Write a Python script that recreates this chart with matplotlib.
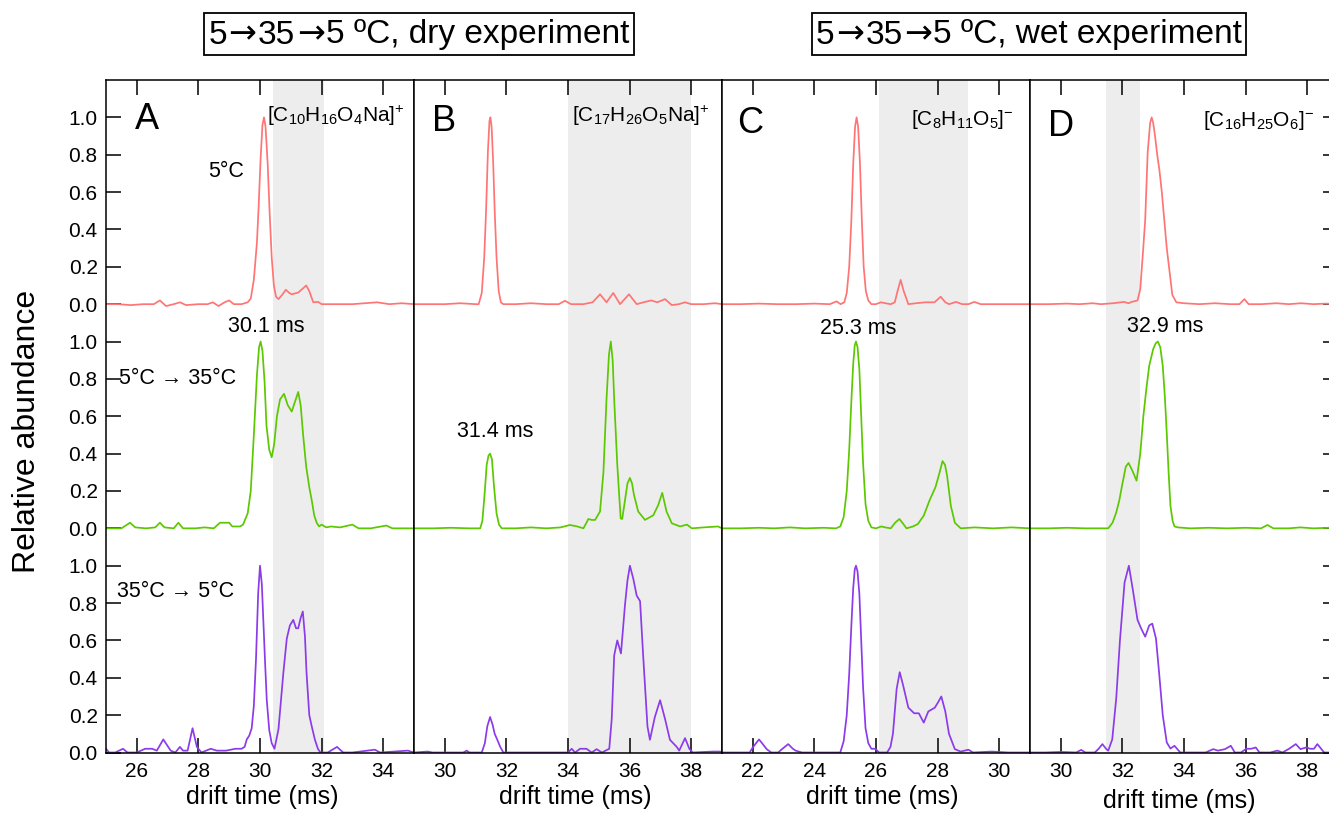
import numpy as np
import matplotlib
matplotlib.use("Agg")
import matplotlib.pyplot as plt
from matplotlib.offsetbox import TextArea, HPacker, AnnotationBbox

plt.rcParams['font.family'] = ['Liberation Sans', 'DejaVu Sans']
plt.rcParams['mathtext.fontset'] = 'custom'
plt.rcParams['mathtext.rm'] = 'Liberation Sans'
plt.rcParams['mathtext.it'] = 'Liberation Sans'
plt.rcParams['mathtext.default'] = 'regular'

# ---------------- data ----------------
panel_letters = ["A", "B", "C", "D"]
panel_formulas = [r"[C$_{10}$H$_{16}$O$_{4}$Na]$^{+}$", r"[C$_{17}$H$_{26}$O$_{5}$Na]$^{+}$",
                  r"[C$_{8}$H$_{11}$O$_{5}$]$^{-}$", r"[C$_{16}$H$_{25}$O$_{6}$]$^{-}$"]
panel_xlims = [(25, 35), (29, 39), (21, 31), (29, 39)]
panel_xticks = [[26, 28, 30, 32, 34], [30, 32, 34, 36, 38], [22, 24, 26, 28, 30], [30, 32, 34, 36, 38]]
panel_shade = [(30.42, 32.07), (34.0, 38.0), (26.09, 28.99), (31.48, 32.56)]
row_offsets = [2.4, 1.2, 0.0]          # 5°C, 5°C→35°C, 35°C→5°C
row_ticks = [0.0, 0.2, 0.4, 0.6, 0.8, 1.0]
row_tick_labels = ["0.0", "0.2", "0.4", "0.6", "0.8", "1.0"]
title_parts = [["5", "→", "35", "→", "5 ºC, dry experiment"],
               ["5", "→", "35", "→", "5 ºC, wet experiment"]]

# Panel A
a_top_x = [25.0, 25.4, 25.8, 26.2, 26.55, 26.75, 26.95, 27.2, 27.4, 27.6, 28.0, 28.3, 28.47, 28.65, 28.85, 29.0,
           29.15, 29.4, 29.6, 29.7, 29.8, 29.9, 29.95, 30.02, 30.08, 30.13, 30.18, 30.25, 30.31, 30.38, 30.45,
           30.52, 30.6, 30.72, 30.84, 30.95, 31.03, 31.24, 31.4, 31.5, 31.6, 31.73, 31.89, 32.0, 32.5, 33.0, 33.4,
           33.8, 34.2, 34.6, 35.0]
a_top_y = [0.0, 0.0, -0.005, 0.0, 0.0, 0.02, -0.01, 0.0, 0.01, -0.005, 0.0, 0.0, 0.01, -0.01, 0.01, 0.02,
           0.0, 0.0, 0.01, 0.03, 0.13, 0.33, 0.5, 0.78, 0.96, 1.0, 0.95, 0.75, 0.5, 0.25, 0.1,
           0.04, 0.027, 0.05, 0.077, 0.06, 0.053, 0.062, 0.085, 0.10, 0.07, 0.01, 0.012, 0.0, 0.0, 0.0, 0.005,
           0.01, 0.0, 0.005, 0.0]
a_mid_x = [25.0, 25.5, 25.78, 25.95, 26.3, 26.6, 26.75, 26.9, 27.2, 27.35, 27.5, 27.9, 28.2, 28.5, 28.7, 28.85,
           29.0, 29.1, 29.24, 29.35, 29.45, 29.6, 29.7, 29.8, 29.9, 29.97, 30.02, 30.08, 30.15, 30.21, 30.3,
           30.38, 30.46, 30.55, 30.65, 30.78, 30.9, 31.03, 31.14, 31.24, 31.32, 31.4, 31.5, 31.6, 31.68, 31.76,
           31.84, 31.92, 32.0, 32.15, 32.3, 32.6, 33.0, 33.2, 33.6, 34.1, 34.3, 35.0]
a_mid_y = [0.0, 0.0, 0.03, 0.005, 0.0, 0.005, 0.03, 0.005, 0.0, 0.03, 0.0, 0.0, 0.005, 0.0, 0.03, 0.03,
           0.03, 0.01, 0.01, 0.01, 0.02, 0.08, 0.2, 0.5, 0.82, 0.97, 1.0, 0.95, 0.78, 0.55, 0.42,
           0.38, 0.45, 0.6, 0.69, 0.72, 0.66, 0.625, 0.68, 0.73, 0.66, 0.5, 0.33, 0.22, 0.15, 0.07,
           0.03, 0.01, 0.02, 0.005, 0.01, 0.005, 0.02, 0.0, 0.0, 0.015, 0.0, 0.0]
a_bot_x = [25.0, 25.1, 25.3, 25.55, 25.7, 26.0, 26.27, 26.5, 26.65, 26.86, 27.1, 27.25, 27.4, 27.5, 27.65,
           27.81, 27.95, 28.1, 28.4, 28.6, 28.9, 29.2, 29.4, 29.5, 29.57, 29.65, 29.73, 29.8, 29.87, 29.94,
           30.0, 30.06, 30.11, 30.16, 30.22, 30.3, 30.38, 30.47, 30.6, 30.76, 30.87, 30.97, 31.08, 31.17,
           31.24, 31.32, 31.39, 31.46, 31.51, 31.6, 31.68, 31.78, 31.88, 31.96, 32.2, 32.5, 32.7, 33.0, 33.73,
           33.9, 34.8, 35.0]
a_bot_y = [0.02, 0.0, 0.0, 0.02, 0.0, 0.0, 0.02, 0.02, 0.01, 0.07, 0.01, 0.0, 0.03, 0.01, 0.01,
           0.13, 0.03, 0.0, 0.02, 0.01, 0.01, 0.02, 0.02, 0.03, 0.07, 0.09, 0.13, 0.25, 0.5, 0.85,
           1.0, 0.9, 0.7, 0.5, 0.28, 0.12, 0.05, 0.02, 0.125, 0.43, 0.61, 0.68, 0.71, 0.665,
           0.665, 0.72, 0.755, 0.62, 0.43, 0.2, 0.14, 0.07, 0.02, 0.0, 0.0, 0.03, 0.0, 0.0, 0.015,
           0.0, 0.01, 0.0]

# Panel B
b_top_x = [29.0, 29.5, 30.0, 30.5, 31.0, 31.1, 31.2, 31.28, 31.34, 31.4, 31.45, 31.48, 31.52, 31.57, 31.62,
           31.68, 31.75, 31.82, 31.9, 32.3, 32.8, 33.3, 33.7, 33.9, 34.1, 34.5, 34.8, 35.04, 35.25, 35.47,
           35.69, 35.98, 36.23, 36.45, 36.7, 36.9, 37.15, 37.37, 37.6, 37.8, 38.0, 38.4, 38.77, 39.0]
b_top_y = [0.0, 0.0, 0.0, 0.005, 0.0, 0.0, 0.06, 0.25, 0.5, 0.82, 0.98, 1.0, 0.95, 0.76, 0.5,
           0.25, 0.07, 0.01, 0.0, 0.0, 0.005, 0.0, 0.0, 0.018, 0.0, 0.0, 0.01, 0.053, 0.01, 0.06,
           0.0, 0.053, 0.0, 0.01, 0.02, 0.01, 0.027, -0.005, 0.0, 0.01, 0.0, 0.0, 0.005, 0.0]
b_mid_x = [29.0, 29.6, 30.2, 30.8, 31.15, 31.22, 31.3, 31.36, 31.42, 31.47, 31.53, 31.6, 31.68, 31.76,
           31.85, 32.3, 32.8, 33.3, 33.76, 34.06, 34.3, 34.5, 34.6, 34.66, 34.77, 34.88, 35.04, 35.15,
           35.25, 35.33, 35.39, 35.45, 35.5, 35.6, 35.71, 35.76, 35.85, 35.93, 36.01, 36.08, 36.14, 36.28,
           36.5, 36.77, 36.93, 37.06, 37.2, 37.37, 37.64, 37.86, 38.02, 38.4, 38.87, 39.0]
b_mid_y = [0.0, 0.0, 0.003, 0.0, 0.0, 0.04, 0.2, 0.34, 0.39, 0.4, 0.37, 0.22, 0.08, 0.02,
           0.0, 0.0, 0.005, 0.0, 0.005, 0.018, 0.01, 0.0, 0.03, 0.05, 0.045, 0.045, 0.09, 0.3,
           0.69, 0.93, 1.0, 0.9, 0.69, 0.34, 0.053, 0.05, 0.15, 0.24, 0.27, 0.24, 0.18, 0.09,
           0.045, 0.07, 0.125, 0.19, 0.09, 0.027, 0.01, 0.02, 0.0, 0.005, 0.01, 0.0]
b_bot_x = [29.0, 29.45, 29.6, 30.0, 30.6, 30.71, 30.8, 31.2, 31.3, 31.38, 31.47, 31.55, 31.62, 31.7, 31.8,
           31.9, 32.3, 32.8, 33.3, 33.8, 34.0, 34.12, 34.23, 34.39, 34.5, 34.6, 34.77, 34.93, 35.1, 35.34,
           35.42, 35.5, 35.6, 35.72, 35.85, 35.93, 36.01, 36.12, 36.23, 36.34, 36.44, 36.58, 36.66, 36.82,
           36.99, 37.15, 37.31, 37.53, 37.61, 37.8, 37.94, 38.05, 38.7, 38.94, 39.0]
b_bot_y = [0.0, 0.005, 0.0, 0.0, 0.0, 0.01, 0.0, 0.0, 0.05, 0.14, 0.19, 0.15, 0.1, 0.07, 0.03,
           0.0, 0.0, 0.0, 0.0, 0.0, 0.0, 0.02, 0.0, 0.02, 0.02, 0.02, 0.0, 0.018, 0.0, 0.02,
           0.18, 0.52, 0.6, 0.53, 0.79, 0.92, 1.0, 0.93, 0.84, 0.81, 0.52, 0.14, 0.068, 0.19,
           0.28, 0.18, 0.068, 0.03, 0.01, 0.077, 0.02, 0.0, 0.005, 0.005, 0.0]

# Panel C
c_top_x = [21.0, 21.6, 22.2, 22.8, 23.4, 24.0, 24.5, 24.72, 24.85, 24.97, 25.05, 25.13, 25.2, 25.26, 25.32,
           25.37, 25.42, 25.48, 25.54, 25.6, 25.67, 25.75, 25.85, 26.0, 26.16, 26.3, 26.48, 26.61, 26.7,
           26.8, 26.9, 27.05, 27.3, 27.6, 27.9, 28.1, 28.25, 28.37, 28.6, 28.8, 29.0, 29.19, 29.4, 30.0,
           30.5, 31.0]
c_top_y = [0.0, 0.0, 0.003, 0.0, 0.0, 0.003, 0.0, 0.015, 0.0, 0.01, 0.06, 0.2, 0.45, 0.75, 0.95,
           1.0, 0.95, 0.75, 0.45, 0.2, 0.07, 0.02, 0.0, 0.0, 0.01, 0.005, 0.0, 0.01, 0.07,
           0.13, 0.07, 0.0, 0.005, 0.01, 0.01, 0.04, 0.01, 0.0, 0.012, 0.0, 0.0, 0.012, 0.0, 0.0,
           0.0, 0.0]
c_mid_x = [21.0, 21.6, 22.2, 22.7, 23.2, 23.7, 24.3, 24.7, 24.84, 24.95, 25.05, 25.13, 25.2, 25.26, 25.31,
           25.35, 25.4, 25.46, 25.52, 25.58, 25.66, 25.75, 25.85, 26.0, 26.17, 26.3, 26.48, 26.62, 26.76,
           26.88, 26.99, 27.2, 27.36, 27.55, 27.74, 27.93, 28.05, 28.16, 28.24, 28.31, 28.43, 28.56, 28.75,
           29.2, 29.8, 30.4, 31.0]
c_mid_y = [0.0, 0.0, 0.003, 0.0, 0.005, 0.0, 0.003, 0.0, 0.01, 0.06, 0.2, 0.42, 0.68, 0.88, 0.98,
           1.0, 0.97, 0.85, 0.6, 0.35, 0.13, 0.04, 0.005, 0.0, 0.01, 0.005, 0.0, 0.03, 0.05,
           0.025, 0.0, 0.01, 0.023, 0.068, 0.15, 0.22, 0.29, 0.36, 0.34, 0.28, 0.12, 0.03, 0.0,
           0.005, 0.0, 0.005, 0.0]
c_bot_x = [21.0, 21.5, 21.9, 22.0, 22.2, 22.3, 22.45, 22.6, 22.82, 23.0, 23.15, 23.3, 23.39, 23.6, 24.2,
           24.6, 24.84, 24.95, 25.05, 25.13, 25.2, 25.26, 25.31, 25.35, 25.4, 25.46, 25.52, 25.58, 25.66,
           25.75, 25.85, 25.98, 26.1, 26.36, 26.47, 26.55, 26.67, 26.77, 26.88, 27.05, 27.24, 27.39, 27.55,
           27.7, 27.91, 28.02, 28.12, 28.25, 28.37, 28.56, 28.75, 29.0, 29.15, 29.76, 30.3, 31.0]
c_bot_y = [0.0, 0.0, 0.0, 0.027, 0.07, 0.05, 0.018, 0.0, 0.0, 0.025, 0.045, 0.02, 0.01, 0.0, 0.0,
           0.0, 0.0, 0.06, 0.2, 0.42, 0.68, 0.88, 0.98, 1.0, 0.97, 0.85, 0.6, 0.35, 0.13,
           0.05, 0.02, 0.02, 0.0, 0.0, 0.03, 0.1, 0.34, 0.43, 0.36, 0.24, 0.21, 0.21, 0.16,
           0.22, 0.24, 0.27, 0.30, 0.22, 0.1, 0.018, 0.005, 0.015, 0.0, 0.005, 0.0, 0.0]

# Panel D
d_top_x = [29.0, 29.6, 30.2, 30.6, 31.04, 31.3, 31.7, 32.05, 32.2, 32.3, 32.49, 32.58, 32.66, 32.74, 32.82,
           32.9, 32.95, 33.0, 33.06, 33.13, 33.2, 33.28, 33.36, 33.44, 33.52, 33.62, 33.75, 34.0, 34.5, 35.0,
           35.5, 35.8, 35.96, 36.1, 36.5, 37.0, 37.4, 37.8, 38.2, 38.6, 39.0]
d_top_y = [0.0, 0.0, 0.003, 0.0, 0.005, 0.0, 0.005, 0.012, 0.005, 0.012, 0.02, 0.08, 0.26, 0.45, 0.81,
           0.97, 1.0, 0.97, 0.9, 0.8, 0.72, 0.6, 0.45, 0.3, 0.19, 0.05, 0.01, 0.005, 0.0, 0.005,
           0.0, 0.0, 0.027, 0.0, 0.0, 0.005, 0.0, 0.005, 0.0, 0.003, 0.0]
d_mid_x = [29.0, 29.6, 30.2, 30.8, 31.2, 31.54, 31.68, 31.8, 31.9, 31.99, 32.11, 32.2, 32.32, 32.46, 32.58,
           32.68, 32.78, 32.87, 33.0, 33.08, 33.15, 33.23, 33.31, 33.38, 33.44, 33.5, 33.56, 33.63, 33.69,
           33.8, 34.2, 34.8, 35.4, 36.0, 36.5, 36.71, 36.9, 37.4, 37.78, 38.2, 38.7, 39.0]
d_mid_y = [0.0, 0.0, 0.003, 0.0, 0.0, 0.0, 0.03, 0.085, 0.15, 0.23, 0.33, 0.35, 0.31, 0.255, 0.4,
           0.6, 0.75, 0.87, 0.96, 0.99, 1.0, 0.97, 0.87, 0.7, 0.51, 0.3, 0.12, 0.04, 0.01,
           0.005, 0.0, 0.003, 0.0, 0.003, 0.0, 0.018, 0.0, 0.0, 0.005, 0.0, 0.003, 0.0]
d_bot_x = [29.0, 29.5, 30.0, 30.5, 30.66, 30.8, 31.1, 31.23, 31.35, 31.48, 31.54, 31.67, 31.8, 31.92, 32.07,
           32.21, 32.34, 32.49, 32.62, 32.74, 32.87, 32.97, 33.09, 33.19, 33.31, 33.44, 33.56, 33.69, 33.88,
           34.2, 34.7, 34.95, 35.1, 35.33, 35.52, 35.65, 35.85, 36.02, 36.18, 36.33, 36.45, 36.8, 37.03,
           37.2, 37.41, 37.63, 37.78, 37.97, 38.1, 38.22, 38.33, 38.55, 38.8, 39.0]
d_bot_y = [0.0, 0.0, 0.003, 0.0, 0.014, 0.0, 0.0, 0.02, 0.045, 0.018, 0.01, 0.07, 0.29, 0.6, 0.91,
           1.0, 0.87, 0.71, 0.66, 0.62, 0.68, 0.69, 0.61, 0.43, 0.2, 0.054, 0.021, 0.036, 0.0,
           0.0, 0.0, 0.018, 0.01, 0.018, 0.036, 0.0, 0.0, 0.02, 0.02, 0.027, 0.0, 0.0, 0.01,
           0.0, 0.02, 0.045, 0.018, 0.027, 0.02, 0.02, 0.045, 0.0, 0.0, 0.0]

traces = [
    [(a_top_x, a_top_y), (a_mid_x, a_mid_y), (a_bot_x, a_bot_y)],
    [(b_top_x, b_top_y), (b_mid_x, b_mid_y), (b_bot_x, b_bot_y)],
    [(c_top_x, c_top_y), (c_mid_x, c_mid_y), (c_bot_x, c_bot_y)],
    [(d_top_x, d_top_y), (d_mid_x, d_mid_y), (d_bot_x, d_bot_y)],
]
row_colors = ["#FF7474", "#5CC800", "#8B3BEA"]

# ---------------- figure ----------------
W, H = 1329, 814
fig = plt.figure(figsize=(W / 100, H / 100), dpi=100)

x0, y_bot, y_top, pw = 106, 752.5, 80, 308
axes = []
for i in range(4):
    ax = fig.add_axes([(x0 + i * pw) / W, (H - y_bot) / H, pw / W, (y_bot - y_top) / H])
    axes.append(ax)

letter_pos = [(25.94, 3.386), (29.58, 3.38), (21.49, 3.367), (29.58, 3.351)]
formula_pos = [(34.68, 3.376), (38.61, 3.376), (30.48, 3.36), (38.22, 3.356)]
xlabel_pos = [(0.507, 797), (0.523, 797), (0.52, 797), (0.484, 801)]

yt = [o + t for o in row_offsets for t in row_ticks]
ytl = row_tick_labels * len(row_offsets)

for i, ax in enumerate(axes):
    ax.set_xlim(*panel_xlims[i])
    ax.set_ylim(0, 3.6)
    ax.axvspan(*panel_shade[i], color="#EDEDED", lw=0, zorder=0)
    for r, (xs, ys) in enumerate(traces[i]):
        ax.plot(xs, np.asarray(ys) + row_offsets[r], color=row_colors[r], lw=1.25, zorder=2)
    ax.set_xticks(panel_xticks[i])
    ax.tick_params(axis="x", direction="in", top=True, bottom=True, length=11, width=1.1,
                   labelsize=15, pad=7)
    if i == 0:
        ax.set_yticks(yt)
        ax.set_yticklabels(ytl)
        ax.tick_params(axis="y", direction="in", left=True, right=False, length=11, width=1.1,
                       labelsize=15, pad=6)
    elif i == 3:
        ax.set_yticks(yt)
        ax.tick_params(axis="y", direction="in", left=False, right=True, labelleft=False,
                       length=11, width=1.1)
    else:
        ax.set_yticks([])
    for s in ax.spines.values():
        s.set_linewidth(1.1)
    ax.text(*letter_pos[i], panel_letters[i], fontsize=26, ha="left", va="center")
    ax.text(*formula_pos[i], panel_formulas[i], fontsize=15, ha="right", va="baseline")
    fx, fy = xlabel_pos[i]
    ax.text(fx, (y_bot - fy) / (y_bot - y_top), "drift time (ms)", fontsize=18,
            ha="center", va="center", transform=ax.transAxes)

# annotations
axes[0].text(28.9, 3.108, "5°C", fontsize=15.5, ha="center", va="center")
axes[0].text(30.19, 2.278, "30.1 ms", fontsize=15.5, ha="center", va="center")
axes[0].text(25.42, 2.0, "5°C → 35°C", fontsize=15.5, ha="left", va="center")
axes[0].text(25.36, 0.86, "35°C → 5°C", fontsize=15.5, ha="left", va="center")
axes[1].text(31.63, 1.72, "31.4 ms", fontsize=15.5, ha="center", va="center")
axes[2].text(25.42, 2.272, "25.3 ms", fontsize=15.5, ha="center", va="center")
axes[3].text(33.38, 2.278, "32.9 ms", fontsize=15.5, ha="center", va="center")

fig.text(27 / W, 1 - 431 / H, "Relative abundance", rotation=90, fontsize=23, ha="center", va="center")

# boxed titles (arrows drawn with DejaVu Sans for a bolder arrow glyph)
for parts, cx in zip(title_parts, [419, 1029]):
    kids = []
    for p in parts:
        fam = ["DejaVu Sans"] if p == "→" else ["Liberation Sans", "DejaVu Sans"]
        kids.append(TextArea(p, textprops=dict(fontsize=24, family=fam)))
    pack = HPacker(children=kids, align="baseline", pad=0, sep=1)
    ab = AnnotationBbox(pack, (cx / W, 1 - 34 / H), xycoords="figure fraction",
                        box_alignment=(0.5, 0.5), frameon=True, pad=0.12,
                        bboxprops=dict(boxstyle="square", fc="white", ec="black", lw=1.3))
    fig.add_artist(ab)

fig.savefig("out.png", dpi=100)
